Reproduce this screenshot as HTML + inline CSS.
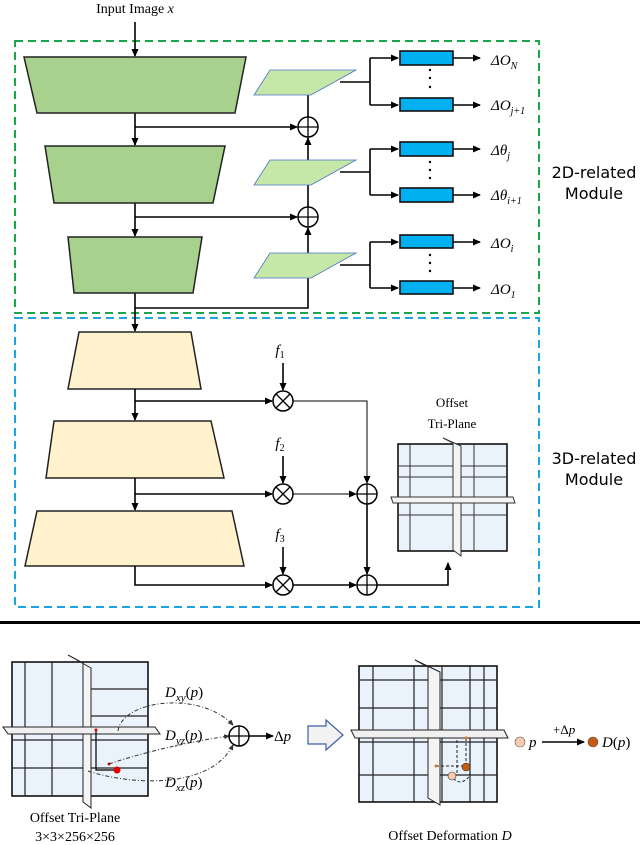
<!DOCTYPE html>
<html><head><meta charset="utf-8"><style>
html,body{margin:0;padding:0;background:#fff;}
svg{display:block;}
.s{font-family:"Liberation Serif",serif;}
.a{font-family:"DejaVu Sans","Liberation Sans",sans-serif;}
</style></head><body>
<svg width="640" height="845" viewBox="0 0 640 845" xmlns="http://www.w3.org/2000/svg">
<defs>
<marker id="ar" markerWidth="8" markerHeight="8" refX="7" refY="4" orient="auto" markerUnits="userSpaceOnUse"><path d="M0,0.5 L8,4 L0,7.5 z" fill="#000"/></marker>
<marker id="ars" markerWidth="6" markerHeight="6" refX="5" refY="3" orient="auto" markerUnits="userSpaceOnUse"><path d="M0,0.5 L6,3 L0,5.5 z" fill="#333"/></marker>
<g id="oplus"><circle r="10" fill="#fff" stroke="#000" stroke-width="1.5"/><path d="M-10,0H10M0,-10V10" stroke="#000" stroke-width="1.3"/></g>
<g id="otimes"><circle r="10" fill="#fff" stroke="#000" stroke-width="1.5"/><path d="M-7,-7L7,7M-7,7L7,-7" stroke="#000" stroke-width="1.3"/></g>
</defs>
<g fill="none" stroke-width="2" stroke-dasharray="8,5">
<rect x="15" y="41" width="524" height="272" stroke="#1aa64a"/>
<rect x="15" y="318" width="524" height="289" stroke="#1aa4e0"/>
</g>
<text x="135" y="13" text-anchor="middle" class="s" font-size="14">Input Image <tspan font-style="italic">x</tspan></text>
<g stroke="#000" stroke-width="1.6" fill="none">
<path d="M135,22V56" marker-end="url(#ar)"/>
<path d="M135,113V145" marker-end="url(#ar)"/>
<path d="M135,203V236" marker-end="url(#ar)"/>
<path d="M135,293V331" marker-end="url(#ar)"/>
<path d="M135,127H297" marker-end="url(#ar)"/>
<path d="M135,217H297" marker-end="url(#ar)"/>
<path d="M135,308H308V278"/>
<path d="M308,265V228" marker-end="url(#ar)"/>
<path d="M308,207V172"/>
<path d="M308,172V138" marker-end="url(#ar)"/>
<path d="M308,117V82"/>
</g>
<g fill="#a9d18e" stroke="#222" stroke-width="1.5">
<polygon points="24,57 246,57 235,113 37,113"/>
<polygon points="45,146 225,146 213,203 54,203"/>
<polygon points="68,237 202,237 193,293 74,293"/>
</g>
<g fill="#c5e8a8" stroke="#4a72c4" stroke-width="0.8">
<polygon points="270,70 356,70 311,95 254,95"/>
<polygon points="270,160 356,160 311,185 254,185"/>
<polygon points="270,253 356,253 311,278 254,278"/>
</g>
<use href="#oplus" x="308" y="127"/>
<use href="#oplus" x="308" y="217"/>
<g stroke="#000" stroke-width="1.6" fill="none">
<path d="M340,82H370M370,58V105" />
<path d="M370,58H398" marker-end="url(#ar)"/><path d="M370,105H398" marker-end="url(#ar)"/>
<path d="M340,172H370M370,149V195"/>
<path d="M370,149H398" marker-end="url(#ar)"/><path d="M370,195H398" marker-end="url(#ar)"/>
<path d="M340,265H370M370,242V288"/>
<path d="M370,242H398" marker-end="url(#ar)"/><path d="M370,288H398" marker-end="url(#ar)"/>
<path d="M453,58H480" marker-end="url(#ar)"/><path d="M453,105H480" marker-end="url(#ar)"/>
<path d="M453,149H480" marker-end="url(#ar)"/><path d="M453,195H480" marker-end="url(#ar)"/>
<path d="M453,242H480" marker-end="url(#ar)"/><path d="M453,288H480" marker-end="url(#ar)"/>
</g>
<g fill="#00b0f0" stroke="#111" stroke-width="1.6">
<rect x="400" y="51" width="53" height="14"/><rect x="400" y="98" width="53" height="13"/>
<rect x="400" y="142" width="53" height="14"/><rect x="400" y="188" width="53" height="14"/>
<rect x="400" y="235" width="53" height="13"/><rect x="400" y="281" width="53" height="13"/>
</g>
<g fill="#000"><circle cx="430" cy="70" r="1.2"/><circle cx="430" cy="78" r="1.2"/><circle cx="430" cy="87" r="1.2"/>
<circle cx="430" cy="162" r="1.2"/><circle cx="430" cy="170" r="1.2"/><circle cx="430" cy="178" r="1.2"/>
<circle cx="430" cy="255" r="1.2"/><circle cx="430" cy="263" r="1.2"/><circle cx="430" cy="271" r="1.2"/></g>
<g class="s" font-size="15" font-style="italic">
<text x="491" y="65">Δ<tspan>O</tspan><tspan font-size="10" dy="4">N</tspan></text>
<text x="491" y="110">Δ<tspan>O</tspan><tspan font-size="10" dy="4">j+1</tspan></text>
<text x="491" y="155">Δ<tspan>θ</tspan><tspan font-size="10" dy="4">j</tspan></text>
<text x="491" y="200">Δ<tspan>θ</tspan><tspan font-size="10" dy="4">i+1</tspan></text>
<text x="491" y="248">Δ<tspan>O</tspan><tspan font-size="10" dy="4">i</tspan></text>
<text x="491" y="294">Δ<tspan>O</tspan><tspan font-size="10" dy="4">1</tspan></text>
</g>
<g class="a" font-size="16" text-anchor="middle"><text x="594" y="178">2D-related</text><text x="594" y="199">Module</text>
<text x="594" y="464">3D-related</text><text x="594" y="485">Module</text></g>
<g fill="#fff2cc" stroke="#222" stroke-width="1.5">
<polygon points="79,332 191,332 201,389 68,389"/>
<polygon points="54,421 211,421 224,478 46,478"/>
<polygon points="37,511 232,511 244,566 25,566"/>
</g>
<g stroke="#000" stroke-width="1.6" fill="none">
<path d="M135,389V420" marker-end="url(#ar)"/>
<path d="M135,478V510" marker-end="url(#ar)"/>
<path d="M135,401H272" marker-end="url(#ar)"/>
<path d="M135,494H272" marker-end="url(#ar)"/>
<path d="M135,566V585H272" marker-end="url(#ar)"/>
<path d="M283,363V390" marker-end="url(#ar)"/>
<path d="M283,456V483" marker-end="url(#ar)"/>
<path d="M283,547V574" marker-end="url(#ar)"/>
<path d="M293,401H367V483" stroke-width="1" marker-end="url(#ar)"/>
<path d="M293,494H356" stroke-width="1" marker-end="url(#ar)"/>
<path d="M367,504V574" marker-end="url(#ar)"/>
<path d="M293,585H356" marker-end="url(#ar)"/>
<path d="M377,585H448V563" marker-end="url(#ar)"/>
</g>
<use href="#otimes" x="283" y="401"/><use href="#otimes" x="283" y="494"/><use href="#otimes" x="283" y="585"/>
<use href="#oplus" x="367" y="494"/><use href="#oplus" x="367" y="585"/>
<g class="s" font-size="15" font-style="italic" text-anchor="middle">
<text x="280" y="355">f<tspan font-size="10" dy="3" font-style="normal">1</tspan></text>
<text x="280" y="448">f<tspan font-size="10" dy="3" font-style="normal">2</tspan></text>
<text x="280" y="539">f<tspan font-size="10" dy="3" font-style="normal">3</tspan></text>
</g>
<g class="s" font-size="13" text-anchor="middle"><text x="452" y="407">Offset</text><text x="452" y="428">Tri-Plane</text></g>
<!-- tri-plane mid -->
<rect x="398" y="444" width="109" height="107" fill="#eaf3fc" stroke="#111" stroke-width="1.6"/>
<g stroke="#333" stroke-width="1"><path d="M410,444V551M474,444V551M398,466H507M398,477H507M398,515H507"/></g>
<polygon points="443,438 461,446 461,556 453,550 453,443" fill="#f4f4f4" stroke="#333" stroke-width="1"/>
<polygon points="391,497 513,497 515,503 393,503" fill="#f4f4f4" stroke="#333" stroke-width="1"/>
<!-- separator -->
<rect x="0" y="621" width="640" height="3" fill="#000"/>
<!-- bottom left tri-plane -->
<rect x="12" y="662" width="136" height="134" fill="#eaf3fc" stroke="#111" stroke-width="1.6"/>
<g stroke="#222" stroke-width="1.2"><path d="M25,662V796M52,662V796M91,689H148M91,716H148M12,740H148M12,768H148"/></g>
<polygon points="68,655 91,668 91,808 83,802 83,663" fill="#f4f4f4" stroke="#222" stroke-width="1"/>
<polygon points="3,727 155,727 160,734 8,734" fill="#f0f0f0" stroke="#222" stroke-width="1"/>
<path d="M96,730V770H117" stroke="#000" stroke-width="1.2" fill="none"/>
<circle cx="117" cy="770" r="3.5" fill="#d00"/><circle cx="96" cy="730" r="1.5" fill="#d00"/><circle cx="109" cy="764" r="1.5" fill="#d00"/>
<g stroke="#333" stroke-width="1" stroke-dasharray="4,2,1,2" fill="none">
<path d="M118,731 C122,700 200,690 233,725" marker-end="url(#ars)"/>
<path d="M109,764 C150,750 200,740 229,736" marker-end="url(#ars)"/>
<path d="M88,771 C130,785 210,790 233,745" marker-end="url(#ars)"/>
</g>
<use href="#oplus" x="239" y="736"/>
<path d="M249,736H273" stroke="#000" stroke-width="1.5" marker-end="url(#ar)"/>
<g class="s" font-size="15" font-style="italic">
<text x="165" y="697">D<tspan font-size="11" dy="4">xy</tspan><tspan dy="-4" font-style="normal">(</tspan>p<tspan font-style="normal">)</tspan></text>
<text x="165" y="740">D<tspan font-size="11" dy="4">yz</tspan><tspan dy="-4" font-style="normal">(</tspan>p<tspan font-style="normal">)</tspan></text>
<text x="165" y="787">D<tspan font-size="11" dy="4">xz</tspan><tspan dy="-4" font-style="normal">(</tspan>p<tspan font-style="normal">)</tspan></text>
<text x="274" y="741"><tspan font-style="normal">Δ</tspan>p</text>
</g>
<polygon points="308,726 326,726 326,720 343,735 326,750 326,744 308,744" fill="#f2f2f2" stroke="#3a5fa8" stroke-width="1.2"/>
<!-- bottom right tri-plane -->
<rect x="359" y="666" width="138" height="136" fill="#eaf3fc" stroke="#111" stroke-width="1.6"/>
<g stroke="#222" stroke-width="1.2"><path d="M373,666V802M414,666V802M442,666V802M470,666V802M484,666V802M359,680H497M359,708H497M359,742H497M359,775H497"/></g>
<polygon points="415,660 440,672 440,805 428,798 428,667" fill="#f4f4f4" stroke="#222" stroke-width="1"/>
<polygon points="351,730 504,730 508,738 355,738" fill="#f0f0f0" stroke="#222" stroke-width="1"/>
<g stroke="#222" stroke-width="1" stroke-dasharray="3,2" fill="none"><path d="M466,738V766H436M457,740V775H440M454,778 C456,785 470,782 470,772"/></g>
<circle cx="466" cy="767" r="4" fill="#c55a11" stroke="#333" stroke-width="0.6"/>
<circle cx="466" cy="738" r="1.5" fill="#e07020"/>
<circle cx="452" cy="776" r="4" fill="#f8cbad" stroke="#333" stroke-width="0.6"/>
<circle cx="436" cy="766" r="1.5" fill="#e07020"/>
<circle cx="520" cy="742" r="5" fill="#f8cbad" stroke="#555" stroke-width="0.6"/>
<circle cx="593" cy="742" r="5" fill="#c55a11" stroke="#555" stroke-width="0.6"/>
<path d="M542,742H584" stroke="#000" stroke-width="1.5" marker-end="url(#ar)"/>
<g class="s" font-size="15" font-style="italic">
<text x="529" y="747">p</text>
<text x="553" y="734" font-size="13"><tspan font-style="normal">+Δ</tspan>p</text>
<text x="602" y="747">D<tspan font-style="normal">(</tspan>p<tspan font-style="normal">)</tspan></text>
</g>
<g class="s" font-size="14" text-anchor="middle">
<text x="75" y="822">Offset Tri-Plane</text>
<text x="75" y="841">3×3×256×256</text>
<text x="450" y="840">Offset Deformation <tspan font-style="italic">D</tspan></text>
</g>
</svg>
</body></html>
